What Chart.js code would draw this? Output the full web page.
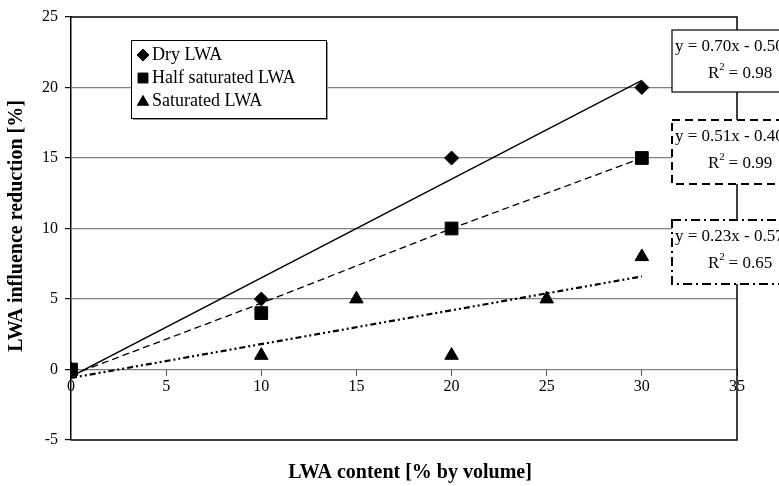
<!DOCTYPE html>
<html>
<head>
<meta charset="utf-8">
<script src="https://cdn.jsdelivr.net/npm/chart.js@4.4.1/dist/chart.umd.min.js"></script>
<style>
  body { margin: 0; background: #fff; }
  #wrap { width: 779px; height: 486px; }
</style>
</head>
<body>
<div id="wrap"><canvas id="lwaChart" width="779" height="486"></canvas></div>
<script>
// ---- data ----
const seriesNames = ['Dry LWA', 'Half saturated LWA', 'Saturated LWA'];

const dryX = [0, 10, 20, 30];
const dryY = [0, 5, 15, 20];
const halfX = [0, 10, 20, 30];
const halfY = [0, 4, 10, 15];
const satX = [0, 10, 15, 20, 25, 30];
const satY = [0, 1, 5, 1, 5, 8];

// trendlines as drawn
const dryFitX = [0, 30];
const dryFitY = [-0.5, 20.5];
const halfFitX = [0, 10, 20, 30];
const halfFitY = [-0.4, 4.7, 10, 15];
const satFitX = [0, 30];
const satFitY = [-0.6, 6.6];

const equations = ['y = 0.70x - 0.50', 'y = 0.51x - 0.40', 'y = 0.23x - 0.57'];
const rSquared = ['0.98', '0.99', '0.65'];

const xTicks = [0, 5, 10, 15, 20, 25, 30, 35];
const yTicks = [-5, 0, 5, 10, 15, 20, 25];

const SERIF = '"Liberation Serif", "Times New Roman", serif';

function pairs(xs, ys) {
    return xs.map((x, i) => ({ x: x, y: ys[i] }));
}

// frame, legend, equation labels and axis titles
const decorPlugin = {
    id: 'decor',
    beforeDatasetsDraw(chart) {
        const ctx = chart.ctx;
        const a = chart.chartArea;
        ctx.save();
        ctx.strokeStyle = '#000';
        ctx.lineWidth = 1.5;
        ctx.beginPath();
        ctx.moveTo(a.left, a.top);
        ctx.lineTo(a.right, a.top);
        ctx.lineTo(a.right, a.bottom);
        ctx.lineTo(a.left, a.bottom);
        ctx.stroke();
        ctx.restore();
    },
    afterDraw(chart) {
        const ctx = chart.ctx;
        ctx.save();

        // legend
        const lx = 131, ly = 40, lw = 195, lh = 78;
        ctx.fillStyle = '#999';
        ctx.fillRect(lx + 2, ly + 2, lw, lh);
        ctx.fillStyle = '#fff';
        ctx.fillRect(lx, ly, lw, lh);
        ctx.strokeStyle = '#000';
        ctx.lineWidth = 1;
        ctx.strokeRect(lx + 0.5, ly + 0.5, lw, lh);
        const styles = [['rectRot', 6], ['rect', 7], ['triangle', 6.5]];
        ctx.font = '18px ' + SERIF;
        ctx.textBaseline = 'middle';
        seriesNames.forEach((name, i) => {
            const cy = ly + 15 + i * 23;
            ctx.fillStyle = '#000';
            ctx.strokeStyle = '#000';
            Chart.helpers.drawPoint(ctx, { pointStyle: styles[i][0], radius: styles[i][1], rotation: 0, borderWidth: 1 }, lx + 12, cy + (i === 2 ? 1 : 0));
            ctx.fillStyle = '#000';
            ctx.textAlign = 'left';
            ctx.fillText(name, lx + 21, cy);
        });

        // equation boxes
        const boxes = [
            { top: 30, h: 62, dash: [], lw: 1.2 },
            { top: 120, h: 64, dash: [8, 5], lw: 2 },
            { top: 220, h: 64, dash: [9, 4, 2, 4], lw: 2 }
        ];
        boxes.forEach((b, i) => {
            const bx = 672;
            ctx.setLineDash([]);
            ctx.fillStyle = '#fff';
            ctx.fillRect(bx, b.top, 130, b.h);
            ctx.setLineDash(b.dash);
            ctx.lineWidth = b.lw;
            ctx.strokeStyle = '#000';
            ctx.strokeRect(bx, b.top, 130, b.h);
            ctx.setLineDash([]);
            ctx.fillStyle = '#000';
            ctx.font = '17px ' + SERIF;
            ctx.textAlign = 'left';
            ctx.fillText(equations[i], bx + 3, b.top + 17);
            const ry = b.top + 44;
            ctx.fillText('R', bx + 36, ry);
            const rw = ctx.measureText('R').width;
            ctx.font = '11px ' + SERIF;
            ctx.fillText('2', bx + 36 + rw, ry - 7);
            ctx.font = '17px ' + SERIF;
            ctx.fillText(' = ' + rSquared[i], bx + 36 + rw + 5, ry);
        });

        // axis titles
        ctx.font = 'bold 20px ' + SERIF;
        ctx.textAlign = 'center';
        ctx.fillText('LWA content [% by volume]', 410, 473);
        ctx.translate(17, 226);
        ctx.rotate(-Math.PI / 2);
        ctx.fillText('LWA influence reduction [%]', 0, 0);

        ctx.restore();
    }
};

const config = {
    type: 'scatter',
    data: {
        datasets: [
            {
                label: seriesNames[0],
                data: pairs(dryX, dryY),
                pointStyle: 'rectRot',
                pointRadius: 7,
                backgroundColor: '#000',
                borderColor: '#000',
                showLine: false
            },
            {
                label: seriesNames[1],
                data: pairs(halfX, halfY),
                pointStyle: 'rect',
                pointRadius: 9,
                backgroundColor: '#000',
                borderColor: '#000',
                showLine: false
            },
            {
                label: seriesNames[2],
                data: pairs(satX, satY),
                pointStyle: 'triangle',
                pointRadius: 7.8,
                backgroundColor: '#000',
                borderColor: '#000',
                showLine: false
            },
            {
                label: 'Dry trend',
                data: pairs(dryFitX, dryFitY),
                showLine: true,
                pointRadius: 0,
                borderColor: '#000',
                borderWidth: 1.3
            },
            {
                label: 'Half trend',
                data: pairs(halfFitX, halfFitY),
                showLine: true,
                pointRadius: 0,
                borderColor: '#000',
                borderWidth: 1.3,
                borderDash: [7, 4]
            },
            {
                label: 'Saturated trend',
                data: pairs(satFitX, satFitY),
                showLine: true,
                pointRadius: 0,
                borderColor: '#000',
                borderWidth: 2.2,
                borderDash: [6, 3, 2, 3, 2, 3]
            }
        ]
    },
    options: {
        responsive: false,
        animation: false,
        layout: {
            padding: { left: 0, top: 17, right: 42, bottom: 46 }
        },
        plugins: {
            legend: { display: false },
            tooltip: { enabled: false }
        },
        scales: {
            x: {
                type: 'linear',
                position: { y: 0 },
                min: 0,
                max: 35,
                afterBuildTicks(scale) {
                    scale.ticks = xTicks.map(v => ({ value: v }));
                },
                border: { color: '#808080', width: 1 },
                grid: {
                    drawOnChartArea: false,
                    tickLength: 6,
                    tickColor: '#555'
                },
                ticks: {
                    color: '#000',
                    padding: 2,
                    maxRotation: 0,
                    font: { family: SERIF, size: 16 }
                }
            },
            y: {
                type: 'linear',
                position: 'left',
                min: -5,
                max: 25,
                afterBuildTicks(scale) {
                    scale.ticks = yTicks.map(v => ({ value: v }));
                },
                afterFit(scale) {
                    scale.width = 71;
                },
                border: { color: '#000', width: 1.5 },
                grid: {
                    color: ctx => (ctx.tick && ctx.tick.value > -5 && ctx.tick.value < 25) ? '#808080' : 'rgba(0,0,0,0)',
                    lineWidth: 1.2,
                    tickLength: 6,
                    tickColor: '#000'
                },
                ticks: {
                    color: '#000',
                    padding: 7,
                    font: { family: SERIF, size: 16 }
                }
            }
        }
    },
    plugins: [decorPlugin]
};

new Chart(document.getElementById('lwaChart'), config);
</script>
</body>
</html>
